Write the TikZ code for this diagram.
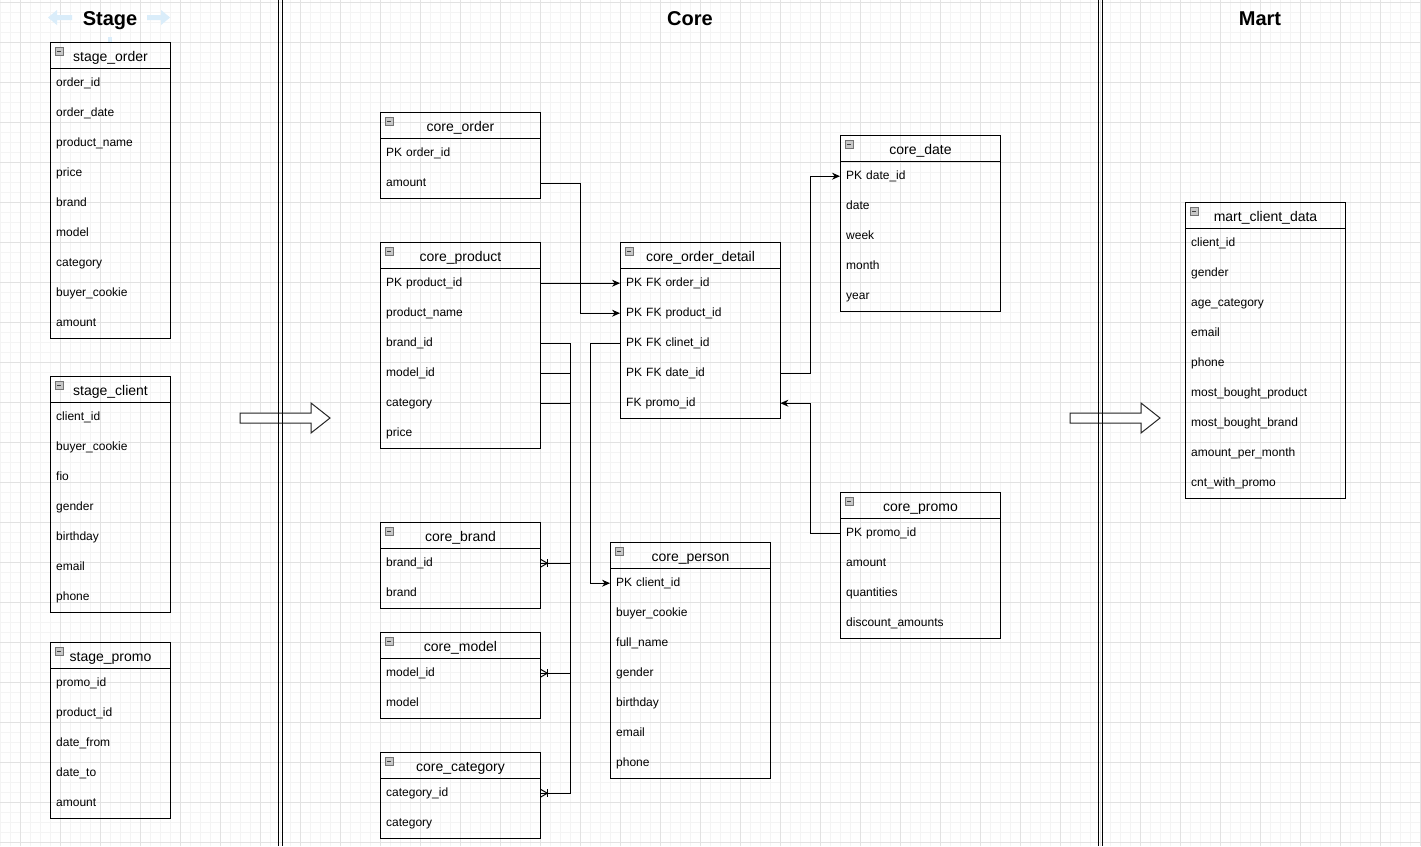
\documentclass[tikz,border=0pt]{standalone}
\usepackage{fontspec}
\setmainfont{Liberation Sans}
\usetikzlibrary{arrows.meta,calc}

% one ER table: name, left x, top y, width, title, comma separated rows
\newcommand\ertable[6]{%
  \node[tblhead, minimum width=#4pt, anchor=north west] (#1) at (#2,#3) {#5};
  \draw[tblicon] (#2+5,#3+5) rectangle ++(8,8);
  \draw[tbliconbar] (#2+7,#3+9) -- ++(4,0);
  \pgfmathsetmacro\ertw{#4-12}
  \foreach \rowtext [count=\i] in {#6} {
    \node[tblrow, text width=\ertw pt, anchor=north west] (#1-\i) at (#2,{#3+26+30*(\i-1)}) {\rowtext};
    \xdef\ernrows{\i}
  }
  \draw[tblframe] (#2,#3) rectangle ++(#4,{26+30*\ernrows});
}

% one-to-many mark at the table side of a link
\newcommand\crowfoot[1]{%
  \draw[link] ($(#1)+(0,-4)$) -- ($(#1)+(7,0)$) -- ($(#1)+(0,4)$);
  \draw[link] ($(#1)+(7,-4)$) -- ($(#1)+(7,4)$);
}

\definecolor{gridminor}{RGB}{244,244,244}
\definecolor{gridmajor}{RGB}{226,226,226}
\definecolor{hintblue}{RGB}{218,237,250}

\begin{document}
\begin{tikzpicture}[x=1pt,y=-1pt,
  tblhead/.style={draw=black, line width=1pt, minimum height=26pt, inner sep=0pt,
    text height=12pt, text depth=0pt, font=\fontsize{14}{16}\selectfont},
  tblrow/.style={minimum height=30pt, inner ysep=0pt, inner xsep=6pt, align=left,
    text height=6.5pt, text depth=0pt, font=\fontsize{12}{14}\selectfont},
  tblframe/.style={draw=black, line width=1pt},
  tblicon/.style={draw=black!55, fill=black!22, line width=0.6pt},
  tbliconbar/.style={draw=black!75, line width=1pt},
  link/.style={draw=black, line width=1pt},
  arrowlink/.style={link, -{Stealth[length=8pt,width=7pt]}},
  blockarrow/.style={draw=black!85, line width=1pt, fill=white},
  lane/.style={draw=black, line width=1pt},
  lanetitle/.style={font=\fontsize{20}{24}\selectfont\bfseries, inner sep=0pt, anchor=base}
]
\useasboundingbox (0,0) rectangle (1421,846);
\fill[white] (0,0) rectangle (1421,846);

% background grid
\foreach \x in {0,10,...,1420} \draw[gridminor, line width=0.8pt] (\x,0) -- (\x,846);
\foreach \y in {2,12,...,842} \draw[gridminor, line width=0.8pt] (0,\y) -- (1421,\y);
\foreach \x in {20,60,...,1420} \draw[gridmajor, line width=0.8pt] (\x,0) -- (\x,846);
\foreach \y in {2,42,...,842} \draw[gridmajor, line width=0.8pt] (0,\y) -- (1421,\y);

% lane titles
\fill[hintblue] (48,17.5) -- (57,10) -- (57,15) -- (72,15) -- (72,20) -- (57,20) -- (57,25) -- cycle;
\fill[hintblue] (170,17.5) -- (161,10) -- (161,15) -- (147,15) -- (147,20) -- (161,20) -- (161,25) -- cycle;
\fill[hintblue] (108,37) rectangle (112,42);
\node[lanetitle] (stagetitle) at (110,25) {Stage};
\node[lanetitle] (coretitle) at (690,25) {Core};
\node[lanetitle] (marttitle) at (1260,25) {Mart};

% stage tables
\ertable{sorder}{50}{42}{120}{stage\_order}{order\_id,order\_date,product\_name,price,brand,model,category,buyer\_cookie,amount}
\ertable{sclient}{50}{376}{120}{stage\_client}{client\_id,buyer\_cookie,fio,gender,birthday,email,phone}
\ertable{spromo}{50}{642}{120}{stage\_promo}{promo\_id,product\_id,date\_from,date\_to,amount}

% core tables
\ertable{corder}{380}{112}{160}{core\_order}{PK order\_id,amount}
\ertable{cproduct}{380}{242}{160}{core\_product}{PK product\_id,product\_name,brand\_id,model\_id,category,price}
\ertable{cbrand}{380}{522}{160}{core\_brand}{brand\_id,brand}
\ertable{cmodel}{380}{632}{160}{core\_model}{model\_id,model}
\ertable{ccategory}{380}{752}{160}{core\_category}{category\_id,category}
\ertable{cdetail}{620}{242}{160}{core\_order\_detail}{PK FK order\_id,PK FK product\_id,PK FK clinet\_id,PK FK date\_id,FK promo\_id}
\ertable{cdate}{840}{135}{160}{core\_date}{PK date\_id,date,week,month,year}
\ertable{cpromo}{840}{492}{160}{core\_promo}{PK promo\_id,amount,quantities,discount\_amounts}
\ertable{cperson}{610}{542}{160}{core\_person}{PK client\_id,buyer\_cookie,full\_name,gender,birthday,email,phone}

% mart table
\ertable{mclient}{1185}{202}{160}{mart\_client\_data}{client\_id,gender,age\_category,email,phone,most\_bought\_product,most\_bought\_brand,amount\_per\_month,cnt\_with\_promo}

% links between core tables
\draw[arrowlink] (cproduct-1.east) -- (cdetail-1.west);
\draw[arrowlink] (corder-2.east) -- ++(40,0) |- (cdetail-2.west);
\draw[arrowlink] (cdetail-3.west) -- ++(-30,0) |- (cperson-1.west);
\draw[arrowlink] (cdetail-4.east) -- ++(30,0) |- (cdate-1.west);
\draw[arrowlink] (cpromo-1.west) -- ++(-30,0) |- (cdetail-5.east);
\draw[link] (cproduct-3.east) -- ++(30,0) |- (cbrand-1.east);
\draw[link] (cproduct-4.east) -- ++(30,0) |- (cmodel-1.east);
\draw[link] (cproduct-5.east) -- ++(30,0) |- (ccategory-1.east);
\crowfoot{cbrand-1.east}
\crowfoot{cmodel-1.east}
\crowfoot{ccategory-1.east}

% flow arrows between lanes
\draw[blockarrow] (240,413) -- (311,413) -- (311,403) -- (330,418) -- (311,433) -- (311,423) -- (240,423) -- cycle;
\draw[blockarrow] (1070,413) -- (1141,413) -- (1141,403) -- (1160,418) -- (1141,433) -- (1141,423) -- (1070,423) -- cycle;

% lane separators
\draw[lane] (278,0) -- (278,846);
\draw[lane] (282,0) -- (282,846);
\draw[lane] (1098.5,0) -- (1098.5,846);
\draw[lane] (1102.5,0) -- (1102.5,846);
\end{tikzpicture}
\end{document}
